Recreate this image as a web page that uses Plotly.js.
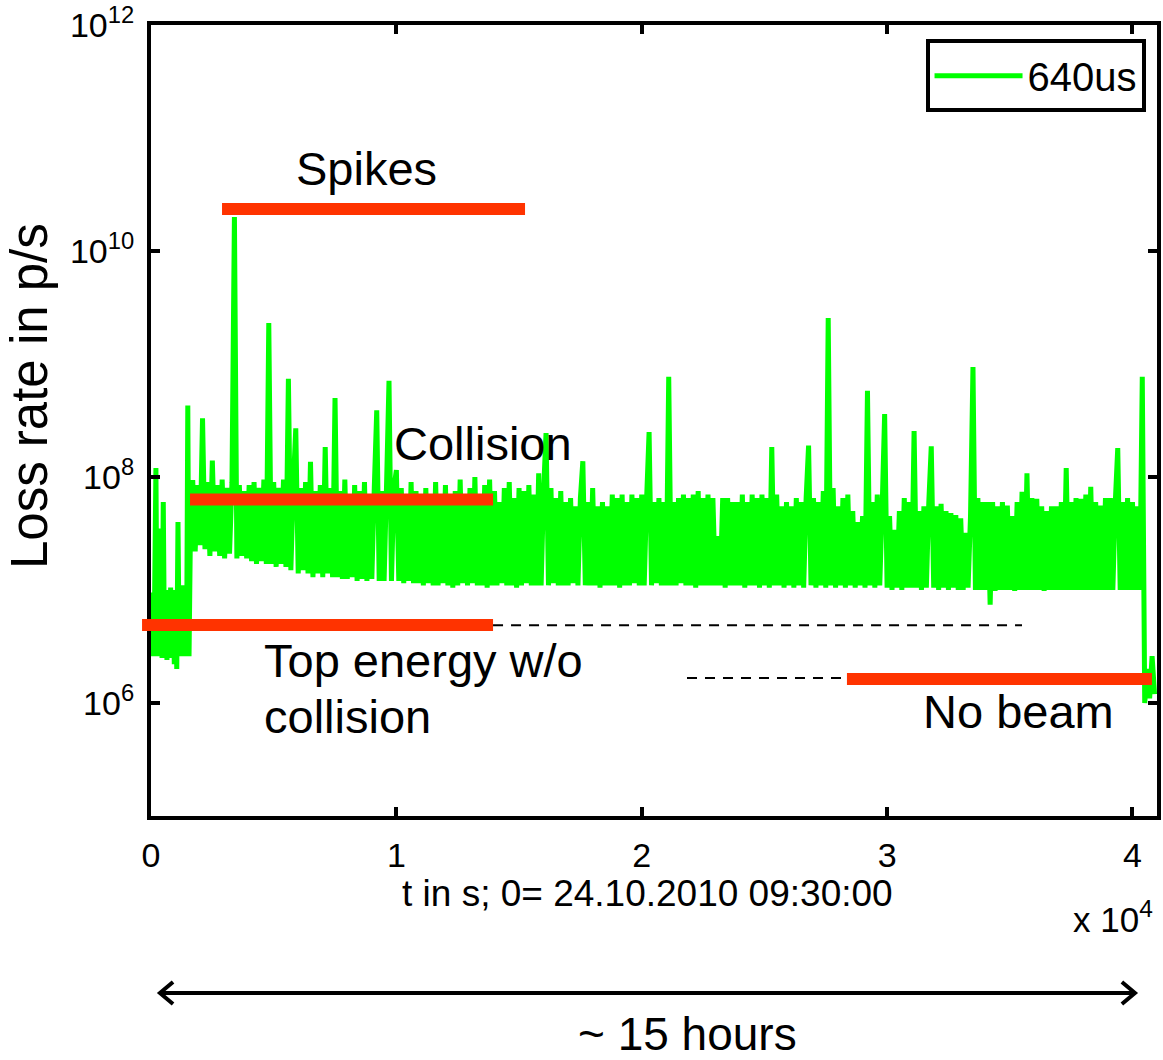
<!DOCTYPE html>
<html>
<head>
<meta charset="utf-8">
<script src="https://cdn.plot.ly/plotly-3.0.1.min.js"></script>
<style>html,body{margin:0;padding:0;background:#fff;}#chart{width:1163px;height:1060px;}</style>
</head>
<body>
<div id="chart"></div>
<script>
// Sample times in seconds (0 = 24.10.2010 09:30:00)
const timeS = [
  0,50,100,150,200,250,300,350,400,450,500,550,600,650,700,750,
  800,850,900,950,1000,1050,1100,1150,1200,1250,1300,1350,1400,1450,1500,1550,
  1600,1700,1800,1900,
  2000,2100,2200,2300,2400,2500,2600,2700,2800,2900,
  3000,3100,3200,3300,3400,3500,3600,3700,3800,3900,
  4000,4100,4200,4300,4400,4500,4600,4700,4800,4900,
  5000,5100,5200,5300,5400,5500,5600,5700,5800,5900,
  6000,6100,6200,6300,6400,6500,6600,6700,6800,6900,
  7000,7100,7200,7300,7400,7500,7600,7700,7800,7900,
  8000,8100,8200,8300,8400,8500,8600,8700,8800,8900,
  9000,9100,9200,9300,9400,9500,9600,9700,9800,9900,
  10000,10100,10200,10300,10400,10500,10600,10700,10800,10900,
  11000,11100,11200,11300,11400,11500,11600,11700,11800,11900,
  12000,12100,12200,12300,12400,12500,12600,12700,12800,12900,
  13000,13100,13200,13300,13400,13500,13600,13700,13800,13900,
  14000,14100,14200,14300,14400,14500,14600,14700,14800,14900,
  15000,15100,15200,15300,15400,15500,15600,15700,15800,15900,
  16000,16100,16200,16300,16400,16500,16600,16700,16800,16900,
  17000,17100,17200,17300,17400,17500,17600,17700,17800,17900,
  18000,18100,18200,18300,18400,18500,18600,18700,18800,18900,
  19000,19100,19200,19300,19400,19500,19600,19700,19800,19900,
  20000,20100,20200,20300,20400,20500,20600,20700,20800,20900,
  21000,21100,21200,21300,21400,21500,21600,21700,21800,21900,
  22000,22100,22200,22300,22400,22500,22600,22700,22800,22900,
  23000,23100,23200,23300,23400,23500,23600,23700,23800,23900,
  24000,24100,24200,24300,24400,24500,24600,24700,24800,24900,
  25000,25100,25200,25300,25400,25500,25600,25700,25800,25900,
  26000,26100,26200,26300,26400,26500,26600,26700,26800,26900,
  27000,27100,27200,27300,27400,27500,27600,27700,27800,27900,
  28000,28100,28200,28300,28400,28500,28600,28700,28800,28900,
  29000,29100,29200,29300,29400,29500,29600,29700,29800,29900,
  30000,30100,30200,30300,30400,30500,30600,30700,30800,30900,
  31000,31100,31200,31300,31400,31500,31600,31700,31800,31900,
  32000,32100,32200,32300,32400,32500,32600,32700,32800,32900,
  33000,33100,33200,33300,33400,33500,33600,33700,33800,33900,
  34000,34100,34200,34300,34400,34500,34600,34700,34800,34900,
  35000,35100,35200,35300,35400,35500,35600,35700,35800,35900,
  36000,36100,36200,36300,36400,36500,36600,36700,36800,36900,
  37000,37100,37200,37300,37400,37500,37600,37700,37800,37900,
  38000,38100,38200,38300,38400,38500,38600,38700,38800,38900,
  39000,39100,39200,39300,39400,39500,39600,39700,39800,39900,
  40000,40100,40200,40300,40400,40500,40600,40700,40800,40900
];
// Loss rate in p/s (640us integration)
const lossRate640us = [
  3.0e6,9.5e6,2.6e6,1.0e7,1.2e8,2.6e6,1.0e7,2.8e6,3.5e7,2.5e6,6.0e7,2.6e6,1.0e7,2.4e6,9.0e6,2.6e6,
  1.05e7,2.5e6,1.0e7,2.2e6,9.5e6,2.0e6,4.0e7,2.6e6,1.1e7,2.7e6,1.1e7,2.6e6,1.0e7,2.6e6,4.3e8,2.6e6,
  2.4e7,9.4e7,2.2e7,8.5e7,
  2.5e7,3.3e8,2.3e7,9.0e7,2.0e7,1.4e8,2.2e7,8.5e7,2.0e7,9.5e7,
  1.9e7,8.0e7,2.1e7,9.0e7,2.0e10,1.9e7,8.5e7,2.0e7,7.5e7,1.9e7,
  8.5e7,1.8e7,9.0e7,1.7e7,8.0e7,1.8e7,9.5e7,1.7e7,2.3e9,1.7e7,
  9.0e7,1.6e7,8.0e7,1.7e7,9.5e7,1.6e7,7.4e8,1.5e7,8.5e7,2.7e8,
  1.4e7,8.0e7,1.5e7,9.0e7,1.4e7,1.36e8,1.3e7,7.5e7,1.4e7,8.5e7,
  1.3e7,1.84e8,1.4e7,8.0e7,1.3e7,5.0e8,1.3e7,7.5e7,1.25e7,9.5e7,
  1.25e7,7.0e7,1.3e7,8.5e7,1.2e7,7.5e7,1.25e7,9.0e7,1.2e7,7.0e7,
  1.25e7,8.0e7,3.9e8,1.2e7,7.5e7,1.2e7,8.5e7,7.1e8,1.2e7,8.0e7,
  1.15e8,1.2e7,8.0e7,1.15e7,7.0e7,1.2e7,9.0e7,1.15e7,7.5e7,1.15e7,
  7.0e7,1.1e7,8.0e7,1.15e7,6.5e7,1.1e7,9.0e7,1.1e7,7.0e7,1.15e7,
  8.5e7,1.1e7,6.5e7,1.05e7,7.5e7,1.1e7,9.5e7,1.15e7,7.0e7,1.1e7,
  8.0e7,1.15e7,1.0e8,1.1e7,7.0e7,1.1e7,8.5e7,1.05e7,9.5e7,1.1e7,
  7.5e7,1.1e7,6.0e7,1.15e7,8.0e7,1.1e7,9.0e7,1.1e7,6.5e7,1.05e7,
  8.0e7,1.1e7,7.5e7,1.15e7,8.5e7,1.1e7,7.0e7,1.1e7,1.08e8,1.1e7,
  7.5e7,2.45e8,1.1e7,8.0e7,1.15e7,6.5e7,1.1e7,7.5e7,1.1e7,6.0e7,
  1.1e7,6.5e7,1.15e7,5.5e7,1.1e7,6.5e7,1.38e8,1.1e7,6.0e7,1.1e7,
  8.0e7,1.1e7,5.5e7,1.05e7,6.0e7,1.1e7,5.5e7,1.1e7,7.0e7,1.1e7,
  6.5e7,1.05e7,7.0e7,1.1e7,6.0e7,1.1e7,7.0e7,1.15e7,6.5e7,1.1e7,
  7.0e7,1.1e7,6.5e7,2.5e8,1.1e7,6.0e7,1.15e7,6.5e7,1.1e7,6.0e7,
  1.1e7,7.7e8,1.1e7,6.0e7,1.1e7,6.5e7,1.15e7,7.0e7,1.1e7,6.5e7,
  1.1e7,7.0e7,1.05e7,7.5e7,1.1e7,6.5e7,1.1e7,7.0e7,1.1e7,6.5e7,
  1.1e7,3.0e7,1.1e7,6.5e7,1.05e7,6.5e7,1.1e7,6.0e7,1.1e7,6.0e7,
  1.1e7,7.0e7,1.05e7,6.0e7,1.1e7,7.0e7,1.1e7,6.5e7,1.05e7,7.0e7,
  1.1e7,6.5e7,1.05e7,1.84e8,1.1e7,7.0e7,1.1e7,5.5e7,1.05e7,6.0e7,
  1.1e7,5.5e7,1.05e7,6.5e7,1.1e7,6.0e7,1.05e7,6.5e7,1.9e8,1.1e7,
  6.5e7,1.05e7,6.0e7,1.1e7,7.5e7,1.05e7,2.55e9,1.1e7,8.0e7,1.05e7,
  5.5e7,1.1e7,6.5e7,1.05e7,7.0e7,1.1e7,5.0e7,1.05e7,4.0e7,1.1e7,
  4.5e7,1.05e7,5.8e8,1.1e7,6.0e7,1.05e7,7.0e7,1.1e7,5.5e7,3.6e8,
  1.05e7,4.5e7,1.0e7,3.4e7,1.05e7,5.0e7,1.0e7,6.5e7,1.05e7,6.0e7,
  1.05e7,2.55e8,1.05e7,5.0e7,1.0e7,5.5e7,1.05e7,6.0e7,1.87e8,1.05e7,
  5.5e7,1.0e7,5.8e7,1.05e7,5.0e7,1.0e7,4.8e7,1.05e7,4.6e7,1.0e7,
  4.3e7,1.0e7,3.2e7,1.05e7,4.5e7,9.4e8,1.0e7,6.5e7,1.0e7,6.0e7,
  1.0e7,6.0e7,7.4e6,6.0e7,9.8e6,5.5e7,1.0e7,6.0e7,1.0e7,5.6e7,
  1.0e7,4.5e7,9.8e6,6.0e7,1.0e7,7.4e7,1.0e7,1.08e8,1.0e7,6.5e7,
  1.0e7,6.4e7,1.0e7,5.5e7,9.8e6,5.0e7,1.0e7,5.5e7,1.0e7,5.5e7,
  1.0e7,6.0e7,1.0e7,1.2e8,1.0e7,6.0e7,1.0e7,6.5e7,1.0e7,6.4e7,
  1.0e7,7.0e7,1.0e7,8.2e7,1.0e7,6.0e7,1.0e7,5.6e7,1.0e7,6.5e7,
  1.0e7,6.5e7,1.0e7,6.0e7,1.8e8,1.0e7,6.0e7,1.0e7,6.5e7,1.0e7,
  6.0e7,1.0e7,5.5e7,1.0e7,7.7e8,1.0e6,2.0e6,1.1e6,2.6e6,1.2e6
];
const seriesName = '640us';
const xTickVals = [0, 10000, 20000, 30000, 40000];
const xTickText = ['0', '1', '2', '3', '4'];
const yTickVals = [1e6, 1e8, 1e10, 1e12];
const yTickText = ['10<sup>6</sup>', '10<sup>8</sup>', '10<sup>10</sup>', '10<sup>12</sup>'];
const xTitle = 't in s; 0= 24.10.2010 09:30:00';
const yTitle = 'Loss rate in p/s';
const labels = {spikes: 'Spikes', collision: 'Collision', top1: 'Top energy w/o', top2: 'collision', nobeam: 'No beam', duration: '~ 15 hours', scale: 'x 10<sup>4</sup>'};

const FONT = 'Liberation Sans, Arial, Helvetica, sans-serif';
const RED = '#ff3300';

const trace = {
  type: 'scatter', mode: 'lines', name: seriesName,
  x: timeS, y: lossRate640us,
  line: {color: '#00ff00', width: 5, simplify: false},
  hoverinfo: 'skip'
};

function ann(text, x, y, size, extra) {
  return Object.assign({xref: 'paper', yref: 'paper', x: x, y: y, text: text, showarrow: false,
    font: {family: FONT, size: size, color: 'black'}, xanchor: 'center', yanchor: 'middle'}, extra || {});
}
function hline(x0, x1, y, color, width, dash) {
  return {type: 'line', xref: 'paper', yref: 'paper', x0: x0, x1: x1, y0: y, y1: y, layer: 'above',
    line: {color: color, width: width, dash: dash || 'solid'}};
}
function pathShape(d) {
  return {type: 'path', xref: 'paper', yref: 'paper', path: d, layer: 'above', line: {color: 'black', width: 4}};
}

const axisCommon = {
  showline: true, linewidth: 4, linecolor: 'black', mirror: 'allticks',
  ticks: 'inside', ticklen: 9, tickwidth: 4, tickcolor: 'black',
  showgrid: false, zeroline: false,
  tickfont: {family: FONT, size: 34, color: 'black'}
};

const layout = {
  width: 1163, height: 1060,
  margin: {l: 151, r: 6, t: 25, b: 244, pad: 0},
  paper_bgcolor: 'white', plot_bgcolor: 'white',
  font: {family: FONT, color: 'black', size: 32},
  showlegend: true,
  legend: {x: 0.9886, xanchor: 'right', y: 0.982, yanchor: 'top', bgcolor: 'white',
    bordercolor: 'black', borderwidth: 4, font: {family: FONT, size: 40, color: 'black'}, itemwidth: 88},
  xaxis: Object.assign({}, axisCommon, {range: [0, 41000], tickmode: 'array', tickvals: xTickVals, ticktext: xTickText, ticklabelstandoff: 6}),
  yaxis: Object.assign({}, axisCommon, {type: 'log', range: [5, 12], tickmode: 'array', tickvals: yTickVals, ticktext: yTickText, ticklabelstandoff: 6}),
  shapes: [
    hline(0.0706, 0.3718, 0.7674, RED, 12),
    hline(0.0388, 0.3400, 0.4001, RED, 12),
    hline(-0.0089, 0.3400, 0.2415, RED, 12),
    hline(0.6918, 0.9950, 0.1732, RED, 12),
    hline(0.3400, 0.8658, 0.2410, 'black', 2, '10px,8px'),
    hline(0.5328, 0.6918, 0.1745, 'black', 2, '10px,8px'),
    hline(0.0109, 0.9761, -0.2238, 'black', 4),
    pathShape('M 0.0219,-0.2099 L 0.0089,-0.2238 L 0.0219,-0.2377'),
    pathShape('M 0.9651,-0.2099 L 0.9781,-0.2238 L 0.9651,-0.2377')
  ],
  annotations: [
    ann(yTitle, -0.1202, 0.531, 51, {textangle: -90}),
    ann(xTitle, 0.4933, -0.0986, 37),
    ann(labels.scale, 0.998, -0.1277, 35, {xanchor: 'right'}),
    ann(labels.spikes, 0.2142, 0.818, 47),
    ann(labels.collision, 0.330, 0.4703, 47),
    ann(labels.top1, 0.1103, 0.196, 47, {xanchor: 'left'}),
    ann(labels.top2, 0.1103, 0.1264, 47, {xanchor: 'left'}),
    ann(labels.nobeam, 0.8623, 0.1327, 47),
    ann(labels.duration, 0.5333, -0.2757, 46)
  ]
};

Plotly.newPlot('chart', [trace], layout, {displayModeBar: false, staticPlot: true});
</script>
</body>
</html>
